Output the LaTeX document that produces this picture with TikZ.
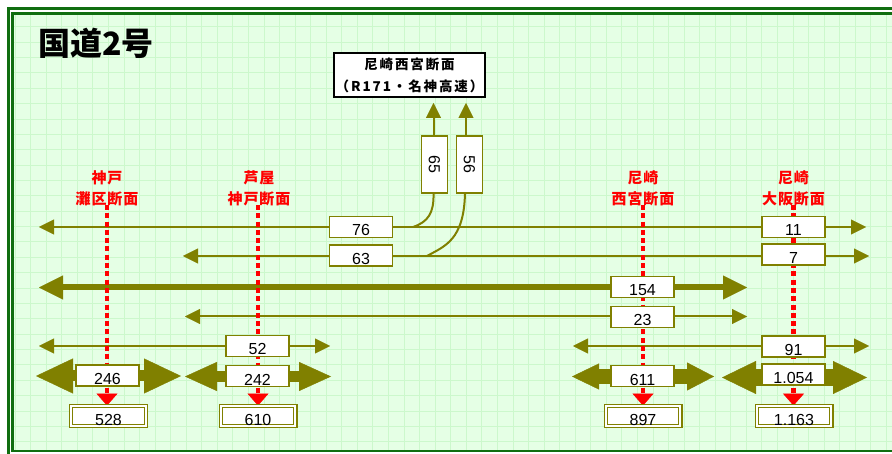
\documentclass[tikz,border=0pt]{standalone}
\usepackage{fontspec}
\setmainfont{Liberation Sans}
\newfontfamily\cjk{Noto Sans CJK JP}
\newfontfamily\cjksp{Noto Sans CJK JP}[LetterSpace=14]
\newfontfamily\cjkred{Noto Sans CJK JP}[LetterSpace=6]
\usetikzlibrary{arrows.meta}
\definecolor{olv}{RGB}{128,128,0}
\definecolor{frm}{RGB}{16,110,16}
\definecolor{bgg}{RGB}{229,255,229}
\definecolor{grd}{RGB}{204,248,204}
\definecolor{rd}{RGB}{255,0,0}
\pgfdeclarelayer{bgl}
\pgfdeclarelayer{back}
\pgfsetlayers{bgl,back,main}
\tikzset{
  tS/.tip={Triangle[length=15pt,width=15pt,line width=0.4pt]},
  tM/.tip={Triangle[length=24pt,width=24pt,line width=0.4pt]},
  tR/.tip={Triangle[length=12pt,width=21pt,line width=0.4pt]},
  oline/.style={draw=olv, line width=2pt},
  bigarr/.style n args={4}{draw=olv, line width=#3, arrows={Triangle[length=#1,width=#2,line width=0.4pt]-Triangle[length=#1,width=#4,line width=0.4pt]}},
  numbox/.style={draw=olv, line width=1.6pt, fill=white, minimum width=63pt, minimum height=21pt, inner sep=0pt, text height=18pt, text depth=0pt, font=\fontsize{16}{16}\selectfont},
  sumbox/.style={numbox, double=white, double distance=2pt, line width=1.2pt, minimum width=74.6pt, minimum height=19.6pt},
  vbox/.style={draw=olv, line width=1.6pt, fill=white, minimum width=26pt, minimum height=57pt, inner sep=0pt, font=\fontsize{16}{16}\selectfont},
  topbox/.style={draw=black, line width=1.3pt, fill=white, minimum width=151pt, minimum height=44pt, inner sep=0pt, align=center, font=\cjksp\bfseries\fontsize{13.5}{22}\selectfont},
  seclabel/.style={text=rd, inner sep=0pt, align=center, font=\cjkred\bfseries\fontsize{15}{21}\selectfont},
  secline/.style={draw=rd, line width=4.5pt, dash pattern=on 5pt off 3.3pt, arrows={-tR}},
}
\begin{document}
\begin{tikzpicture}[x=1pt,y=-1pt]
\useasboundingbox (0,0) rectangle (892,454);
\begin{pgfonlayer}{bgl}
  \fill[white] (0,0) rectangle (892,454);
  \fill[bgg] (12.6,13.3) rectangle (900,451);
  \foreach \i in {0,...,56} \draw[grd, line width=0.8pt] ({15+15.56*\i},13.3) -- ({15+15.56*\i},451);
  \foreach \j in {0,...,27} \draw[grd, line width=0.8pt] (12.6,{26.7+15.37*\j}) -- (900,{26.7+15.37*\j});
  \draw[frm, line width=3pt] (8.2,8.6) rectangle (905,470);
  \draw[frm, line width=2.6pt] (12.6,13.3) rectangle (900,451);
\end{pgfonlayer}

% title and top box
\node[font=\cjk\bfseries\fontsize{32}{32}\selectfont, anchor=west, inner sep=0pt] (title) at (38,43) {国道2号};
\node[topbox] (tb) at (409.5,75) {尼崎西宮断面\\（R171・名神高速）};

% vertical boxes
\node[vbox] (b65) at (434.5,164.5) {\rotatebox{-90}{65}};
\node[vbox] (b56) at (469.5,164.5) {\rotatebox{-90}{56}};
\coordinate (t65) at (433.5,103);
\coordinate (t56) at (466,103);
\coordinate (m65) at (413,227);
\coordinate (m56) at (427,256);

% section labels
\node[seclabel] (lk) at (107,188.5) {神戸\\灘区断面};
\node[seclabel] (la) at (259,188.5) {芦屋\\神戸断面};
\node[seclabel] (ln) at (643,188.5) {尼崎\\西宮断面};
\node[seclabel] (lo) at (793.5,188.5) {尼崎\\大阪断面};
\coordinate (sk) at (107,205);
\coordinate (sa) at (258,205);
\coordinate (sn) at (643,205);
\coordinate (so) at (793.5,205);

% number boxes
\node[numbox] (b76) at (361,227) {76};
\node[numbox] (b63) at (361,255.5) {63};
\node[numbox] (b11) at (793.5,227) {11};
\node[numbox] (b7) at (793.5,254.5) {7};
\node[numbox] (b154) at (642.5,287) {154};
\node[numbox] (b23) at (642.5,317) {23};
\node[numbox] (b52) at (257.5,346) {52};
\node[numbox] (b91) at (793.5,346.5) {91};
\node[numbox] (b246) at (107.5,375.5) {246};
\node[numbox] (b242) at (257.5,376) {242};
\node[numbox] (b611) at (642.5,376) {611};
\node[numbox] (b1054) at (793.5,374.5) {1.054};
\node[sumbox] (s528) at (108.5,416) {528};
\node[sumbox] (s610) at (258,416) {610};
\node[sumbox] (s897) at (643,416) {897};
\node[sumbox] (s1163) at (794,416) {1.163};

% line end coordinates
\coordinate (l1a) at (39,227);   \coordinate (l1b) at (866,227);
\coordinate (l2a) at (183,256);  \coordinate (l2b) at (869,256);
\coordinate (l3a) at (39,287.5); \coordinate (l3b) at (747,287.5);
\coordinate (l4a) at (185,316.5);\coordinate (l4b) at (747,316.5);
\coordinate (l5a) at (39,346);   \coordinate (l5b) at (330,346);
\coordinate (l6a) at (573,346);  \coordinate (l6b) at (869,346);
\coordinate (ka) at (36,376);    \coordinate (kb) at (181,376);
\coordinate (aa) at (185,376.5); \coordinate (ab) at (331,376.5);
\coordinate (na) at (572,376.5); \coordinate (nb) at (714,376.5);
\coordinate (oa) at (722,377.5); \coordinate (ob) at (867,377.5);

\begin{pgfonlayer}{back}
  \draw[oline, arrows={tS-tS}] (l1a) -- (l1b);
  \draw[oline, arrows={tS-tS}] (l2a) -- (l2b);
  \draw[draw=olv, line width=6pt, arrows={tM-tM}] (l3a) -- (l3b);
  \draw[oline, arrows={tS-tS}] (l4a) -- (l4b);
  \draw[oline, arrows={tS-tS}] (l5a) -- (l5b);
  \draw[oline, arrows={tS-tS}] (l6a) -- (l6b);
  \draw[bigarr={37pt}{35pt}{11pt}{35pt}] (ka) -- (kb);
  \draw[bigarr={32pt}{29pt}{11pt}{29pt}] (aa) -- (ab);
  \draw[bigarr={27pt}{26pt}{15pt}{28pt}] (na) -- (nb);
  \draw[bigarr={34pt}{33pt}{17pt}{33pt}] (oa) -- (ob);
  \draw[oline, arrows={-tS}] (t65 |- b65.north) -- (t65);
  \draw[oline, arrows={-tS}] (t56 |- b56.north) -- (t56);
  \draw[oline] (t65 |- b65.south) .. controls (434,213) and (428,222) .. (m65);
  \draw[oline] (465,193) .. controls (464,240) and (445,246) .. (m56);
  \draw[secline] (sk) -- (sk |- s528.north);
  \draw[secline] (sa) -- (sa |- s610.north);
  \draw[secline] (sn) -- (sn |- s897.north);
  \draw[secline] (so) -- (so |- s1163.north);
\end{pgfonlayer}
\end{tikzpicture}
\end{document}
